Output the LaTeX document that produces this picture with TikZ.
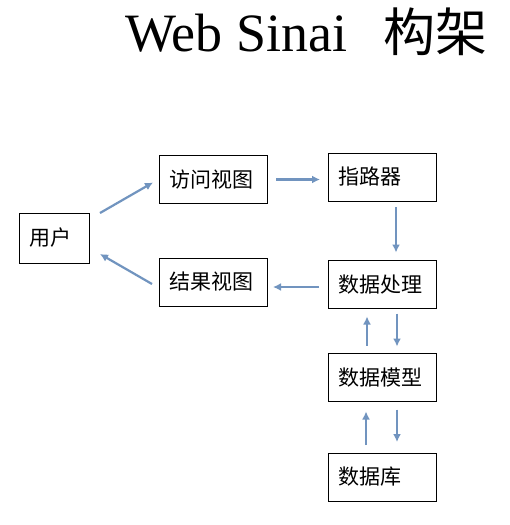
\documentclass[tikz,border=0pt]{standalone}
\usepackage{fontspec}
\setmainfont{Liberation Serif}
\newfontfamily\cjk{Noto Sans CJK SC}
\usetikzlibrary{arrows.meta,calc}
\definecolor{arrowblue}{HTML}{7194BF}
\begin{document}
\begin{tikzpicture}[x=1pt,y=-1pt,
  box/.style={draw=black,line width=0.9pt,minimum width=108pt,minimum height=48pt,
    inner xsep=10pt,text width=88pt,align=left,outer sep=0pt,font=\cjk\fontsize{21}{25}\selectfont},
  conn/.style={draw=arrowblue,line width=2.2pt,-{Latex[length=8pt,width=8pt]}}]
\useasboundingbox[fill=white] (0,0) rectangle (510,525);
\node[anchor=base west,inner sep=0pt] (title) at (125,51)
  {\fontsize{54}{60}\selectfont Web Sinai\hspace{36pt}{\cjk\fontsize{52}{60}\selectfont 构架}};
\node[box,minimum width=70pt,minimum height=50pt,text width=50pt] (user) at (54,238) {用户};
\node[box] (visit) at (213,179.5) {访问视图};
\node[box] (result) at (213,282) {结果视图};
\node[box] (router) at (382,177) {指路器};
\node[box] (process) at (382,284.5) {数据处理};
\node[box] (model) at (382,377.5) {数据模型};
\node[box] (db) at (382,477) {数据库};
\draw[conn] ($(user.north east)+(11,0)$) -- ($(visit.south west)+(-6,-21)$);
\draw[conn] ($(result.west)+(-7,2)$) -- ($(user.south east)+(11,-9)$);
\draw[conn] ($(visit.east)+(9,0)$) -- ($(router.west |- visit.east)+(-8,0)$);
\draw[conn] ($(router.south)+(14,6)$) -- ($(process.north)+(14,-8)$);
\draw[conn] ($(process.west)+(-9,2.5)$) -- ($(result.east |- process.west)+(6,2.5)$);
\draw[conn] ($(model.north)+(-15,-8)$) -- ($(process.south)+(-15,8)$);
\draw[conn] ($(process.south)+(15,5)$) -- ($(model.north)+(15,-7)$);
\draw[conn] ($(db.north)+(-16,-8)$) -- ($(model.south)+(-16,10)$);
\draw[conn] ($(model.south)+(15,8)$) -- ($(db.north)+(15,-11)$);
\end{tikzpicture}
\end{document}
